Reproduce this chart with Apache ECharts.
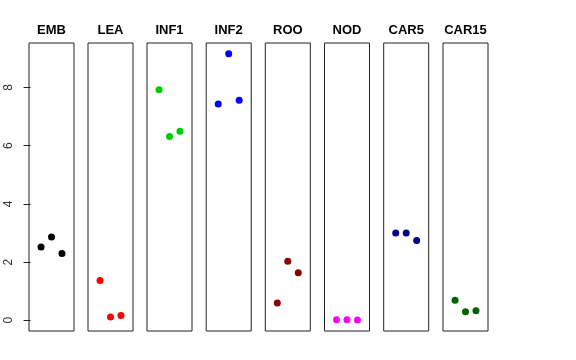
<!DOCTYPE html>
<html><head><meta charset="utf-8">
<script src="https://cdn.jsdelivr.net/npm/echarts@6/dist/echarts.min.js"></script>
<style>html,body{margin:0;padding:0;background:#fff}#c{width:576px;height:360px}</style>
</head><body><div id="c"></div>
<script>
const categories = ['EMB','LEA','INF1','INF2','ROO','NOD','CAR5','CAR15'];
const colors = ['#000000','#FF0000','#00CD00','#0000FF','#8B0000','#FF00FF','#00008B','#006400'];
const EMB = [2.52, 2.86, 2.29];
const LEA = [1.37, 0.11, 0.16];
const INF1 = [7.92, 6.32, 6.50];
const INF2 = [7.43, 9.16, 7.56];
const ROO = [0.59, 2.03, 1.63];
const NOD = [0.02, 0.02, 0.01];
const CAR5 = [3.00, 3.00, 2.74];
const CAR15 = [0.69, 0.29, 0.33];
const yTicks = [0, 2, 4, 6, 8];
const values = [EMB, LEA, INF1, INF2, ROO, NOD, CAR5, CAR15];

const chart = echarts.init(document.getElementById('c'));
const lefts = [29, 88, 147, 206.2, 265.3, 324.5, 383.7, 443];
const W = 45, TOP = 43, H = 288;
const grids = [], xAxes = [], yAxes = [], series = [], titles = [];
categories.forEach((name, i) => {
  grids.push({left: lefts[i], top: TOP, width: W, height: H, show: true, borderColor: '#222', borderWidth: 1, backgroundColor: 'transparent'});
  xAxes.push({type: 'value', gridIndex: i, min: -0.15, max: 4.15, show: false});
  const y = {type: 'value', gridIndex: i, min: -0.37, max: 9.53, splitLine: {show: false}};
  if (i === 0) {
    Object.assign(y, {
      show: true,
      axisLine: {show: false},
      axisTick: {show: true, length: 7, lineStyle: {color: '#222'}, customValues: yTicks},
      axisLabel: {show: true, rotate: 90, margin: 14, color: '#333', fontSize: 12, fontFamily: 'Liberation Sans, Arial, sans-serif', customValues: yTicks}
    });
  } else {
    y.show = false;
  }
  yAxes.push(y);
  series.push({
    type: 'scatter', xAxisIndex: i, yAxisIndex: i,
    data: values[i].map((v, j) => [j + 1, v]),
    symbolSize: 7, itemStyle: {color: colors[i], opacity: 1}, silent: true
  });
  titles.push({
    text: name, left: lefts[i] + W / 2, top: 24, textAlign: 'center', padding: 0,
    textStyle: {fontSize: 13, fontWeight: 'bold', color: '#000', fontFamily: 'Liberation Sans, Arial, sans-serif'}
  });
});
chart.setOption({
  animation: false,
  title: titles,
  grid: grids,
  xAxis: xAxes,
  yAxis: yAxes,
  series: series
});
</script></body></html>
